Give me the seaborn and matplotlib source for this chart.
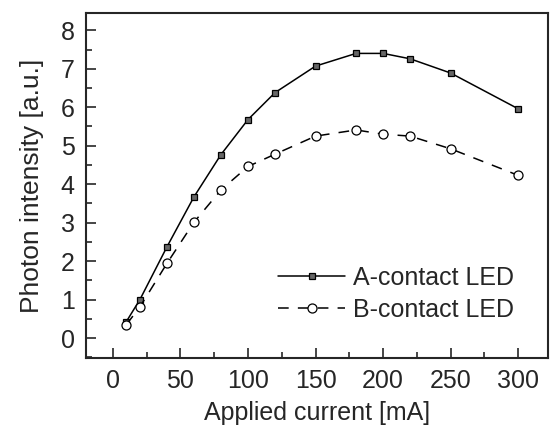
import matplotlib
matplotlib.use("Agg")
import matplotlib.pyplot as plt
import seaborn as sns
import pandas as pd
from matplotlib.ticker import MultipleLocator

current = [10, 20, 40, 60, 80, 100, 120, 150, 180, 200, 220, 250, 300]
a_contact = [0.43, 1.0, 2.37, 3.67, 4.77, 5.68, 6.38, 7.07, 7.4, 7.4, 7.26, 6.89, 5.96]
b_contact = [0.35, 0.81, 1.94, 3.01, 3.85, 4.46, 4.78, 5.25, 5.41, 5.30, 5.25, 4.92, 4.23]
labels = ["A-contact LED", "B-contact LED"]

sns.set_style("ticks")
plt.rcParams['font.family'] = ['Liberation Sans', 'DejaVu Sans']

fig = plt.figure(figsize=(5.54, 4.34), dpi=100)
ax = fig.add_axes([0.155, 0.175, 0.834, 0.795])

dfa = pd.DataFrame({"x": current, "y": a_contact})
dfb = pd.DataFrame({"x": current, "y": b_contact})

sns.lineplot(data=dfa, x="x", y="y", ax=ax, color="black", lw=1.1,
             marker="s", markersize=5, markerfacecolor="#666666",
             markeredgecolor="black", markeredgewidth=0.9, label=labels[0])
sns.lineplot(data=dfb, x="x", y="y", ax=ax, color="black", lw=1.1,
             linestyle=(0, (7, 6)), marker="o", markersize=6.5,
             markerfacecolor="white", markeredgecolor="black",
             markeredgewidth=0.9, label=labels[1])

ax.set_xlim(-20, 322)
ax.set_ylim(-0.52, 8.45)
ax.xaxis.set_major_locator(MultipleLocator(50))
ax.xaxis.set_minor_locator(MultipleLocator(25))
ax.yaxis.set_major_locator(MultipleLocator(1))
ax.yaxis.set_minor_locator(MultipleLocator(0.5))
ax.tick_params(which="both", direction="in", top=False, right=False, labelsize=18, width=1.2)
ax.tick_params(which="major", length=7, pad=8)
ax.tick_params(which="minor", length=4)
for s in ax.spines.values():
    s.set_linewidth(1.5)
    s.set_visible(True)

ax.set_xlabel("Applied current [mA]", fontsize=18, labelpad=6)
ax.set_ylabel("Photon intensity [a.u.]", fontsize=19, labelpad=12)

leg = ax.legend(loc="lower right", bbox_to_anchor=(0.975, 0.04), frameon=False,
                fontsize=18, handlelength=2.7, handletextpad=0.3, labelspacing=0.3)

fig.savefig("out.png", dpi=100)
